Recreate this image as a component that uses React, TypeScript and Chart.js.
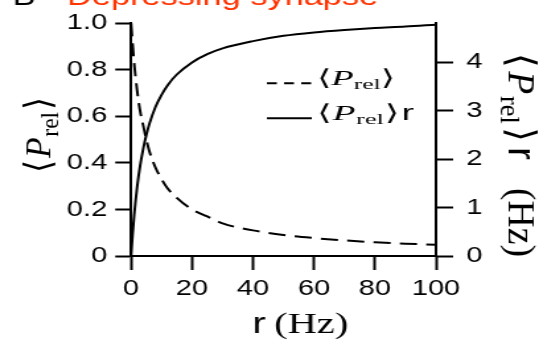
import React, { useEffect, useRef } from 'react';
import { Chart, registerables } from 'chart.js';

Chart.register(...registerables);

// ---- data ----
const rValues = [0, 0.5, 1, 2, 3, 4, 5, 6, 8, 10, 12, 15, 20, 25, 30, 40, 50, 60, 70, 80, 90, 100];
const pRel = [1.0, 0.91, 0.83, 0.71, 0.62, 0.56, 0.5, 0.45, 0.38, 0.33, 0.29, 0.25, 0.2, 0.17, 0.14, 0.11, 0.09, 0.077, 0.067, 0.059, 0.053, 0.048];
const pRelR = [0, 0.45, 0.83, 1.43, 1.88, 2.22, 2.5, 2.73, 3.08, 3.33, 3.53, 3.75, 4.0, 4.17, 4.29, 4.44, 4.55, 4.62, 4.67, 4.71, 4.74, 4.78];
const xTicks = [0, 20, 40, 60, 80, 100];
const leftTicks = [0, 0.2, 0.4, 0.6, 0.8, 1.0];
const rightTicks = [0, 1, 2, 3, 4];
const titleLetter = 'B';
const titleText = 'Depressing synapse';

// ---- layout ----
const CW = 408;
const CH = 340;
const S = 539 / CW;
const SERIF = "'Liberation Serif', 'DejaVu Serif', serif";
const SANS = "'Liberation Sans', Arial, sans-serif";

type Part = { t: string; f: 'serif' | 'serifI' | 'sans'; sub?: boolean; g?: number };

function fontOf(p: Part, size: number) {
  const s = p.sub ? size * 0.7 : size;
  if (p.f === 'sans') return `${s}px ${SANS}`;
  if (p.f === 'serifI') return `italic ${s}px ${SERIF}`;
  return `${s}px ${SERIF}`;
}

function drawMath(
  ctx: CanvasRenderingContext2D,
  parts: Part[],
  size: number,
  target: number,
  unstretch: boolean,
  kmax: number
) {
  ctx.save();
  if (unstretch) ctx.scale(1 / S, 1);
  ctx.textBaseline = 'alphabetic';
  ctx.textAlign = 'left';
  const widths: number[] = [];
  let natural = 0;
  let gsum = 0;
  parts.forEach((p, i) => {
    ctx.font = fontOf(p, size);
    const w = ctx.measureText(p.t).width;
    widths.push(w);
    natural += w;
    if (i > 0) gsum += p.g ?? 0;
  });
  const k = Math.min(target / natural, kmax);
  const extra = target - natural * k;
  let x = 0;
  parts.forEach((p, i) => {
    if (i > 0 && gsum > 0) x += (extra * (p.g ?? 0)) / gsum;
    ctx.save();
    ctx.translate(x, 0);
    ctx.scale(k, 1);
    ctx.font = fontOf(p, size);
    ctx.fillText(p.t, 0, p.sub ? size * 0.2 : 0);
    ctx.restore();
    x += widths[i] * k;
  });
  ctx.restore();
}

const pRelParts: Part[] = [
  { t: '\u27E8', f: 'serif' },
  { t: 'P', f: 'serifI', g: 1 },
  { t: 'rel', f: 'serif', sub: true, g: 0.5 },
  { t: '\u27E9', f: 'serif', g: 1 },
];

const labelsPlugin = {
  id: 'labels',
  afterDraw(chart: any) {
    const ctx: CanvasRenderingContext2D = chart.ctx;
    ctx.save();
    ctx.fillStyle = '#000';
    // title
    ctx.font = `26px ${SANS}`;
    ctx.textBaseline = 'alphabetic';
    ctx.textAlign = 'left';
    ctx.fillText(titleLetter, 9.5, 4.5);
    ctx.fillStyle = '#ff3300';
    ctx.fillText(titleText, 50.7, 4.5);
    ctx.fillStyle = '#000';

    // left axis label
    ctx.save();
    ctx.translate(38, 173);
    ctx.rotate(-Math.PI / 2);
    drawMath(ctx, pRelParts, 28, 76, false, 1.2);
    ctx.restore();

    // right axis label
    ctx.save();
    ctx.translate(384.5, 53);
    ctx.rotate(Math.PI / 2);
    drawMath(
      ctx,
      [...pRelParts, { t: 'r', f: 'sans', g: 1.5 }, { t: '(Hz)', f: 'serif', g: 8 }],
      29,
      204,
      false,
      1.3
    );
    ctx.restore();

    // x axis label (target widths given in picture pixels)
    ctx.save();
    ctx.translate(191, 333);
    drawMath(ctx, [{ t: 'r', f: 'sans' }, { t: '(Hz)', f: 'serif', g: 1 }], 30, 96, true, 1.35);
    ctx.restore();

    // legend
    ctx.strokeStyle = '#000';
    ctx.lineWidth = 2;
    ctx.setLineDash([7.5, 5.5]);
    ctx.beginPath();
    ctx.moveTo(202, 83.3);
    ctx.lineTo(236, 83.3);
    ctx.stroke();
    ctx.setLineDash([]);
    ctx.beginPath();
    ctx.moveTo(202, 118.3);
    ctx.lineTo(236, 118.3);
    ctx.stroke();
    ctx.save();
    ctx.translate(240, 85);
    drawMath(ctx, pRelParts, 22, 78, true, 1.7);
    ctx.restore();
    ctx.save();
    ctx.translate(240, 120);
    drawMath(ctx, [...pRelParts, { t: 'r', f: 'sans', g: 2 }], 22, 97, true, 1.7);
    ctx.restore();

    ctx.restore();
  },
};

export default function App() {
  const ref = useRef<HTMLCanvasElement>(null);
  useEffect(() => {
    const tickFont = { family: SANS, size: 22 };
    const grid = (len: number) => ({
      display: true,
      drawOnChartArea: false,
      drawTicks: true,
      tickLength: len,
      tickWidth: 2,
      tickColor: '#000',
    });
    const border = { display: true, color: '#000', width: 2 };
    const chart = new Chart(ref.current!, {
      type: 'line',
      data: {
        datasets: [
          {
            label: '\u27E8Prel\u27E9',
            data: rValues.map((r, i) => ({ x: r, y: pRel[i] })),
            yAxisID: 'yL',
            borderColor: '#000',
            borderWidth: 2,
            borderDash: [13, 7],
            pointRadius: 0,
            fill: false,
            cubicInterpolationMode: 'monotone',
            clip: 4,
          },
          {
            label: '\u27E8Prel\u27E9r',
            data: rValues.map((r, i) => ({ x: r, y: pRelR[i] })),
            yAxisID: 'yR',
            borderColor: '#000',
            borderWidth: 2,
            pointRadius: 0,
            fill: false,
            cubicInterpolationMode: 'monotone',
            clip: 4,
          },
        ],
      },
      options: {
        animation: false,
        responsive: true,
        maintainAspectRatio: false,
        layout: { padding: { top: 22, left: 0, right: 0, bottom: 0 } },
        plugins: { legend: { display: false }, tooltip: { enabled: false }, title: { display: false } },
        scales: {
          x: {
            type: 'linear',
            position: 'bottom',
            min: 0,
            max: 100,
            border,
            grid: grid(14),
            ticks: { color: '#000', font: tickFont, padding: 6, maxRotation: 0, autoSkip: false },
            afterBuildTicks: (s: any) => {
              s.ticks = xTicks.map((v) => ({ value: v }));
            },
            afterFit: (s: any) => {
              s.height = CH - 256;
            },
          },
          yL: {
            type: 'linear',
            position: 'left',
            min: 0,
            max: 1,
            border,
            grid: grid(12),
            ticks: {
              color: '#000',
              font: tickFont,
              padding: 6,
              callback: (v: any) => (v === 0 ? '0' : Number(v).toFixed(1)),
            },
            afterBuildTicks: (s: any) => {
              s.ticks = leftTicks.map((v) => ({ value: v }));
            },
            afterFit: (s: any) => {
              s.width = 99.2;
            },
          },
          yR: {
            type: 'linear',
            position: 'right',
            min: 0,
            max: 4.81,
            border,
            grid: grid(13),
            ticks: { color: '#000', font: tickFont, padding: 10, callback: (v: any) => String(v) },
            afterBuildTicks: (s: any) => {
              s.ticks = rightTicks.map((v) => ({ value: v }));
            },
            afterFit: (s: any) => {
              s.width = CW - 330;
            },
          },
        },
      },
      plugins: [labelsPlugin],
    } as any);
    return () => chart.destroy();
  }, []);
  return (
    <div
      style={{
        position: 'absolute',
        left: 0,
        top: 0,
        width: CW,
        height: CH,
        transform: `scaleX(${S})`,
        transformOrigin: '0 0',
      }}
    >
      <canvas ref={ref} />
    </div>
  );
}
